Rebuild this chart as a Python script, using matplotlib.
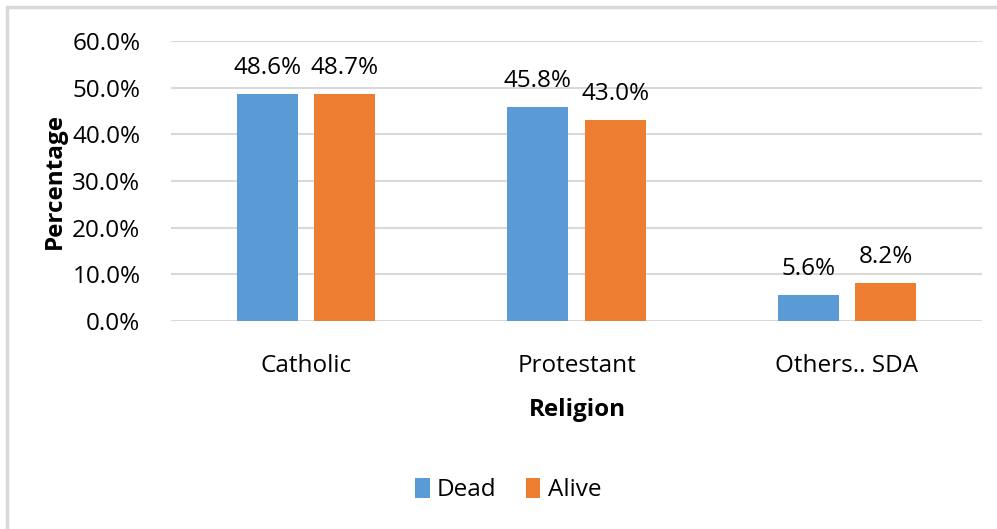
import numpy as np
import matplotlib.pyplot as plt
from matplotlib.patches import Rectangle
from matplotlib.ticker import FuncFormatter
from matplotlib import font_manager

religions = ['Catholic', 'Protestant', 'Others.. SDA']
dead = [48.6, 45.8, 5.6]
alive = [48.7, 43.0, 8.2]
yticks = [0, 10, 20, 30, 40, 50, 60]

names = {f.name for f in font_manager.fontManager.ttflist}
fam = 'Liberation Sans Narrow' if 'Liberation Sans Narrow' in names else 'Open Sans'
plt.rcParams['font.family'] = [fam, 'DejaVu Sans']

fig = plt.figure(figsize=(9.97, 5.29), dpi=100)
# light grey chart-area border, open to the right and bottom
fig.patches.append(Rectangle((7/997, -0.1), 2, 1.1 - 7/529,
                             transform=fig.transFigure, fill=False,
                             edgecolor='#d9d9d9', linewidth=2.5))
ax = fig.add_axes([171/997, 1 - 321/529, (982 - 171)/997, 280/529])

x = np.arange(len(religions))
w = 0.225
off = 0.143
b1 = ax.bar(x - off, dead, w, color='#5b9bd5', label='Dead')
b2 = ax.bar(x + off, alive, w, color='#ed7d31', label='Alive')
for bars, vals in ((b1, dead), (b2, alive)):
    for r, v in zip(bars, vals):
        ax.text(r.get_x() + r.get_width()/2, v + 3.0, f'{v:.1f}%',
                ha='center', va='bottom', fontsize=17.5)

ax.set_ylim(0, 60)
ax.set_xlim(-0.5, 2.5)
ax.set_yticks(yticks)
ax.yaxis.set_major_formatter(FuncFormatter(lambda v, p: f'{v:.1f}%'))
ax.set_xticks(x)
ax.set_xticklabels(religions)
ax.tick_params(axis='both', length=0, labelsize=17.5)
ax.tick_params(axis='y', pad=22)
ax.tick_params(axis='x', pad=24)
ax.grid(axis='y', color='#d9d9d9', linewidth=1.5)
ax.set_axisbelow(True)
for s in ax.spines.values():
    s.set_visible(False)

fig.text(55/997, 1 - 181/529, 'Percentage', rotation=90, ha='center', va='center',
         fontsize=17.5, fontweight='bold')
fig.text(577/997, 1 - 410/529, 'Religion', ha='center', va='center',
         fontsize=17.5, fontweight='bold')

fig.legend(handles=[b1, b2], loc='center', bbox_to_anchor=(508/997, 1 - 490/529),
           ncol=2, frameon=False, fontsize=17.5, handlelength=0.6, handleheight=0.9,
           handletextpad=0.3, columnspacing=1.2)

fig.savefig('out.png')
